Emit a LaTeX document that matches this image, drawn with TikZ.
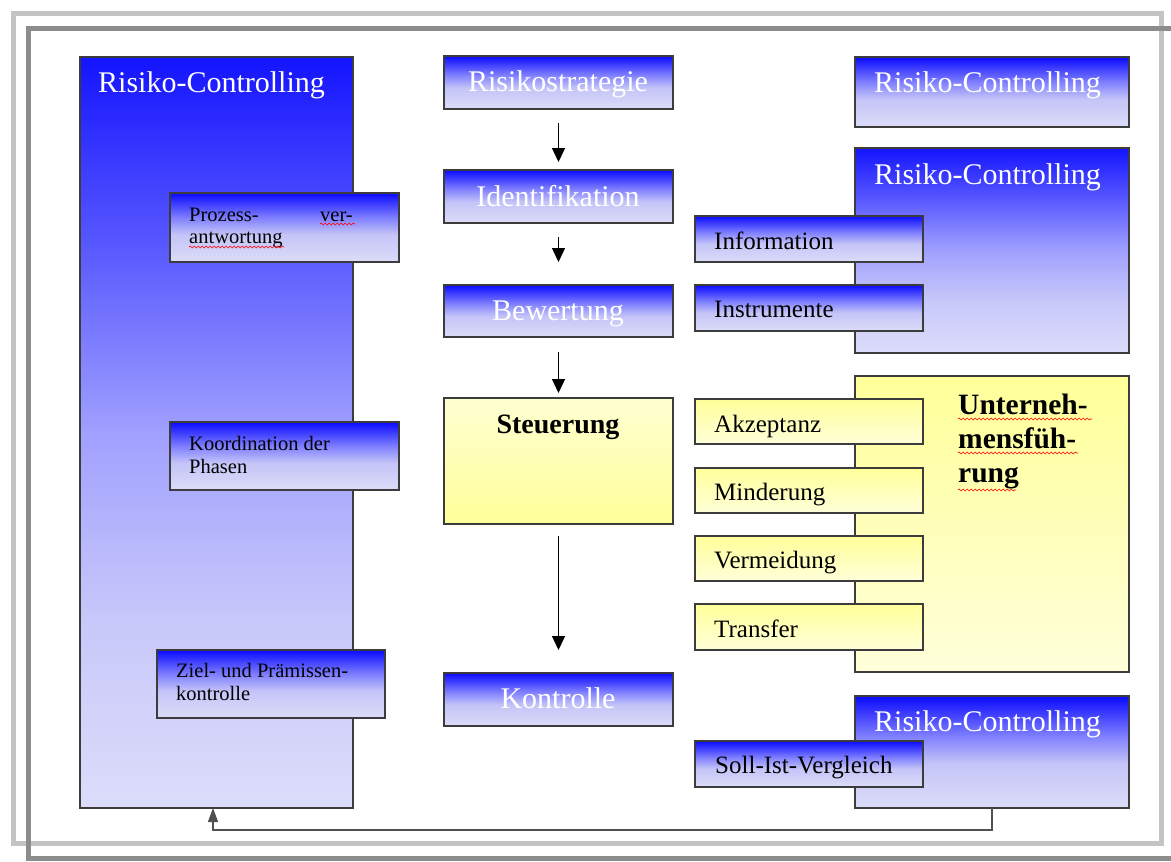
\documentclass[tikz,border=0pt]{standalone}
\usepackage{fontspec}
\setmainfont{Liberation Serif}
\usetikzlibrary{arrows.meta,fit,decorations.pathmorphing}

% colour stops for the box fills
\definecolor{bsA}{HTML}{0A0AFF}
\definecolor{bsB}{HTML}{8080FF}
\definecolor{bsC}{HTML}{C4C4F8}
\definecolor{bsD}{HTML}{DCDCF8}
\definecolor{blA}{HTML}{1414FF}
\definecolor{blB}{HTML}{5858FF}
\definecolor{blC}{HTML}{A0A0FF}
\definecolor{blD}{HTML}{C8C8FA}
\definecolor{blE}{HTML}{DCDCFA}
\definecolor{ylA}{HTML}{FFFF99}
\definecolor{ylB}{HTML}{FFFFDA}
\definecolor{ylC}{HTML}{FFFFD2}
\definecolor{edge}{HTML}{3C3C3C}
\definecolor{frameL}{HTML}{C4C4C4}
\definecolor{frameD}{HTML}{8C8C8C}

% vertical fills (0bp..100bp, the box spans 25bp..75bp, top at 75bp)
\pgfdeclareverticalshading{blueSmall}{100bp}{color(0bp)=(bsD); color(25bp)=(bsD); color(45bp)=(bsC); color(57bp)=(bsB); color(75bp)=(bsA); color(100bp)=(bsA)}
\pgfdeclareverticalshading{blueLarge}{100bp}{color(0bp)=(blE); color(25bp)=(blE); color(37.5bp)=(blD); color(50bp)=(blC); color(62.5bp)=(blB); color(75bp)=(blA); color(100bp)=(blA)}
\pgfdeclareverticalshading{yellowDown}{100bp}{color(0bp)=(ylB); color(25bp)=(ylB); color(75bp)=(ylA); color(100bp)=(ylA)}
\pgfdeclareverticalshading{yellowUp}{100bp}{color(0bp)=(ylA); color(25bp)=(ylA); color(75bp)=(ylC); color(100bp)=(ylC)}

\tikzset{
  box/.style={draw=edge, line width=1.3pt, inner sep=0pt, outer sep=0pt},
  bsmall/.style={box, shading=blueSmall},
  blarge/.style={box, shading=blueLarge},
  ysmall/.style={box, shading=yellowDown},
  ysteu/.style={box, shading=yellowUp},
  title/.style={text=white, font=\fontsize{30}{34}\selectfont, inner sep=0pt},
  label/.style={text=black, font=\fontsize{25}{28}\selectfont, inner sep=0pt, anchor=base west},
  note/.style={text=black, font=\fontsize{20.5}{23}\selectfont, inner sep=0pt, anchor=base west},
  heavy/.style={text=black, font=\bfseries\fontsize{28}{32}\selectfont, inner sep=0pt},
  arr/.style={line width=1.4pt, -{Triangle[width=13pt,length=14pt]}},
  wavy/.style={red, line width=0.6pt, decorate, decoration={snake, segment length=4pt, amplitude=1pt}},
}

\begin{document}
\begin{tikzpicture}[x=1pt,y=-1pt]
\useasboundingbox (0,0) rectangle (1171,862);
\fill[white] (0,0) rectangle (1171,862);

% double frame
\draw[frameL, line width=5pt] (13,13) rectangle (1161,843);
\draw[frameD, line width=5pt] (1171,28) -- (28,28) -- (28,858) -- (1171,858);

% left column
\node[blarge, fit={(80,57) (353,808)}] (L) {};
\node[title, anchor=base west] (Lt) at (98,92) {Risiko-Controlling};
\node[bsmall, fit={(170,193) (399,262)}] (P) {};
\node[note] (Pa) at (189,221) {Prozess-};
\node[note, anchor=base east] (Pb) at (353,221) {ver-};
\node[note] (Pc) at (189,243) {antwortung};
\node[bsmall, fit={(170,422) (399,490)}] (K) {};
\node[note] (Ka) at (189,450) {Koordination der};
\node[note] (Kb) at (189,473) {Phasen};
\node[bsmall, fit={(157,650) (385,718)}] (Z) {};
\node[note] (Za) at (176,677) {Ziel- und Prämissen-};
\node[note] (Zb) at (176,700) {kontrolle};

% middle column
\node[bsmall, fit={(444,56) (673,109)}] (RS) {};
\node[title, anchor=base] (RSt) at (558,91) {Risikostrategie};
\node[bsmall, fit={(444,170) (673,223)}] (ID) {};
\node[title, anchor=base] (IDt) at (558,206) {Identifikation};
\node[bsmall, fit={(444,285) (673,337)}] (BW) {};
\node[title, anchor=base] (BWt) at (558,320) {Bewertung};
\node[ysteu, fit={(444,398) (673,524)}] (ST) {};
\node[heavy, anchor=base] (STt) at (558,433) {Steuerung};
\node[bsmall, fit={(444,673) (673,726)}] (KO) {};
\node[title, anchor=base] (KOt) at (558,708) {Kontrolle};

\draw[arr, shorten <=14pt, shorten >=8pt] (RS.south) -- (ID.north);
\draw[arr, shorten <=14pt, shorten >=23pt] (ID.south) -- (BW.north);
\draw[arr, shorten <=15pt, shorten >=5pt] (BW.south) -- (ST.north);
\draw[arr, shorten <=12pt, shorten >=23pt] (ST.south) -- (KO.north);

% right column
\node[bsmall, fit={(855,57) (1129,127)}] (R1) {};
\node[title, anchor=base west] (R1t) at (874,92) {Risiko-Controlling};
\node[blarge, fit={(855,148) (1129,353)}] (R2) {};
\node[title, anchor=base west] (R2t) at (874,184) {Risiko-Controlling};
\node[bsmall, fit={(695,216) (923,262)}] (INF) {};
\node[label] (INFt) at (714,249) {Information};
\node[bsmall, fit={(695,285) (923,331)}] (INS) {};
\node[label] (INSt) at (714,317) {Instrumente};

\node[ysmall, fit={(855,376) (1129,672)}] (U) {};
\node[heavy, font=\bfseries\fontsize{29.5}{33}\selectfont, anchor=base west] (Ua) at (958,414) {Unterneh-};
\node[heavy, font=\bfseries\fontsize{29.5}{33}\selectfont, anchor=base west] (Ub) at (958,448) {mensfüh-};
\node[heavy, font=\bfseries\fontsize{29.5}{33}\selectfont, anchor=base west] (Uc) at (958,482) {rung};
\node[ysmall, fit={(695,399) (923,444)}] (AK) {};
\node[label] (AKt) at (714,432) {Akzeptanz};
\node[ysmall, fit={(695,468) (923,513)}] (MI) {};
\node[label] (MIt) at (714,500) {Minderung};
\node[ysmall, fit={(695,536) (923,581)}] (VE) {};
\node[label] (VEt) at (714,568) {Vermeidung};
\node[ysmall, fit={(695,604) (923,650)}] (TR) {};
\node[label] (TRt) at (714,637) {Transfer};

\node[bsmall, fit={(855,696) (1129,808)}] (R3) {};
\node[title, anchor=base west] (R3t) at (874,731) {Risiko-Controlling};
\node[bsmall, fit={(695,741) (923,787)}] (SO) {};
\node[label] (SOt) at (715,773) {Soll-Ist-Vergleich};

% feedback from the last controlling box back to the left column
\draw[line width=1.3pt, draw=edge!90, -{Triangle[width=10pt,length=14pt]}] (R3.south) -- ++(0,22) -| ([xshift=-3.5pt]L.south);

% spelling marks
\draw[wavy] (Pb.base west) ++(0,3) -- ++(35,0);
\draw[wavy] (Pc.base west) ++(0,4) -- ++(95,0);
\draw[wavy] (Ua.base west) ++(0,5) -- ++(134,0);
\draw[wavy] (Ub.base west) ++(0,5) -- ++(120,0);
\draw[wavy] (Uc.base west) ++(0,8) -- ++(58,0);
\end{tikzpicture}
\end{document}
